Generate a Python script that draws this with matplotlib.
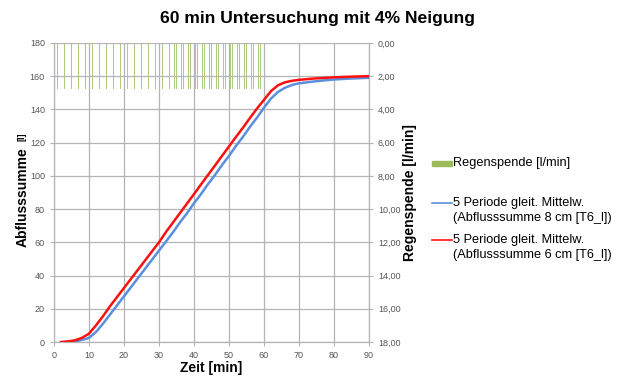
import numpy as np
import matplotlib.pyplot as plt
from matplotlib.patches import Rectangle
from matplotlib.lines import Line2D
from matplotlib.ticker import FuncFormatter

plt.rcParams['font.family'] = ['Liberation Sans', 'DejaVu Sans']

# Regenspende (rain bars, 0-60 min)
rain_t = np.arange(0.5, 60.01, 0.5)
rain = [2.8] * len(rain_t)

# 5 Periode gleit. Mittelw. - Abflusssumme 6 cm (red)
red_t = [2, 4, 6, 8, 10, 12, 14, 16, 18, 20, 22, 24, 26, 28, 30, 32, 34, 36, 38, 40,
         42, 44, 46, 48, 50, 52, 54, 56, 58, 60, 62, 64, 66, 68, 70, 75, 80, 85, 90]
red_v = [0, 0.3, 1.0, 2.5, 5, 10, 15.5, 21.5, 27, 32.5, 38, 43.5, 49, 54.5, 60, 66.2, 71.9, 77.6, 83.3, 89,
         94.8, 100.5, 106.2, 112, 117.7, 123.4, 129, 134.8, 140.5, 145.7, 151, 154.5, 156.3, 157.2, 157.8, 158.7, 159.3, 159.7, 160]

# 5 Periode gleit. Mittelw. - Abflusssumme 8 cm (blue)
blue_t = [3, 5, 7, 9, 10, 12, 14, 16, 18, 20, 22, 24, 26, 28, 30, 32, 34, 36, 38, 40,
          42, 44, 46, 48, 50, 52, 54, 56, 58, 60, 62, 64, 66, 68, 70, 75, 80, 85, 90]
blue_v = [0, 0.3, 0.8, 1.8, 2.5, 6, 11, 16.5, 22, 27.5, 33, 38.5, 44, 49.5, 55, 60.5, 66, 72, 77.5, 83.5,
          89, 95, 100.5, 106.5, 112, 118, 123.5, 129.5, 135, 141, 146.5, 150.5, 153, 154.7, 155.7, 157, 158, 158.6, 159]

green = '#9BBB59'
blue = '#5B8FDB'
red = '#FF1010'

fig = plt.figure(figsize=(6.35, 3.8), dpi=100)
ax = fig.add_axes([0.085, 0.1, 0.496, 0.787])
ax2 = ax.twinx()

grid_c = '#B4B4B4'
tick_c = '#555555'

ax2.bar(rain_t, rain, width=0.12, color='#AECB82', linewidth=0, zorder=1)
ax2.set_ylim(18, 0)
ax2.set_yticks(np.arange(0, 18.1, 2))
ax2.yaxis.set_major_formatter(FuncFormatter(lambda v, p: f'{v:.2f}'.replace('.', ',')))

ax.plot(blue_t, blue_v, color=blue, lw=1.8, zorder=3)
ax.plot(red_t, red_v, color=red, lw=1.8, zorder=4)
ax.set_zorder(ax2.get_zorder() + 1)
ax.patch.set_visible(False)

ax.set_xlim(0, 90)
ax.set_ylim(0, 180)
ax.set_xticks(np.arange(0, 91, 10))
ax.set_yticks(np.arange(0, 181, 20))
ax.grid(True, color=grid_c, lw=0.9)
ax.set_axisbelow(True)

for a in (ax, ax2):
    a.tick_params(labelsize=6.5, colors=tick_c, length=3, width=0.8, color=grid_c)
    for s in a.spines.values():
        s.set_color(grid_c)
    a.spines['top'].set_visible(False)

ax.set_xlabel('Zeit [min]', fontsize=10, fontweight='bold', labelpad=1)
ax2.set_ylabel('Regenspende [l/min]', fontsize=10, fontweight='bold', labelpad=2)
fig.text(0.035, 0.48, 'Abflusssumme', rotation=90, fontsize=10, fontweight='bold', ha='center', va='center')
fig.text(0.035, 0.64, '[l]', rotation=90, fontsize=6.5, fontweight='bold', ha='center', va='center')

fig.text(0.5, 0.95, '60 min Untersuchung mit 4% Neigung', fontsize=12.6, fontweight='bold',
         ha='center', va='center')

# legend drawn by hand in figure pixels
W, H = 635, 380
def fy(y):
    return 1 - y / H

fig.add_artist(Rectangle((432 / W, fy(165.5)), 20 / W, 5 / H, color=green, transform=fig.transFigure))
fig.text(453 / W, fy(163), 'Regenspende [l/min]', fontsize=9.2, va='center', ha='left')
fig.add_artist(Line2D([432 / W, 452 / W], [fy(203), fy(203)], color=blue, lw=1.2, transform=fig.transFigure))
fig.text(453 / W, fy(203), '5 Periode gleit. Mittelw.', fontsize=9.2, va='center', ha='left')
fig.text(453 / W, fy(218), '(Abflusssumme 8 cm [T6_l])', fontsize=9.2, va='center', ha='left')
fig.add_artist(Line2D([432 / W, 452 / W], [fy(240), fy(240)], color=red, lw=1.2, transform=fig.transFigure))
fig.text(453 / W, fy(240), '5 Periode gleit. Mittelw.', fontsize=9.2, va='center', ha='left')
fig.text(453 / W, fy(255), '(Abflusssumme 6 cm [T6_l])', fontsize=9.2, va='center', ha='left')

fig.savefig('out.png', dpi=100)
